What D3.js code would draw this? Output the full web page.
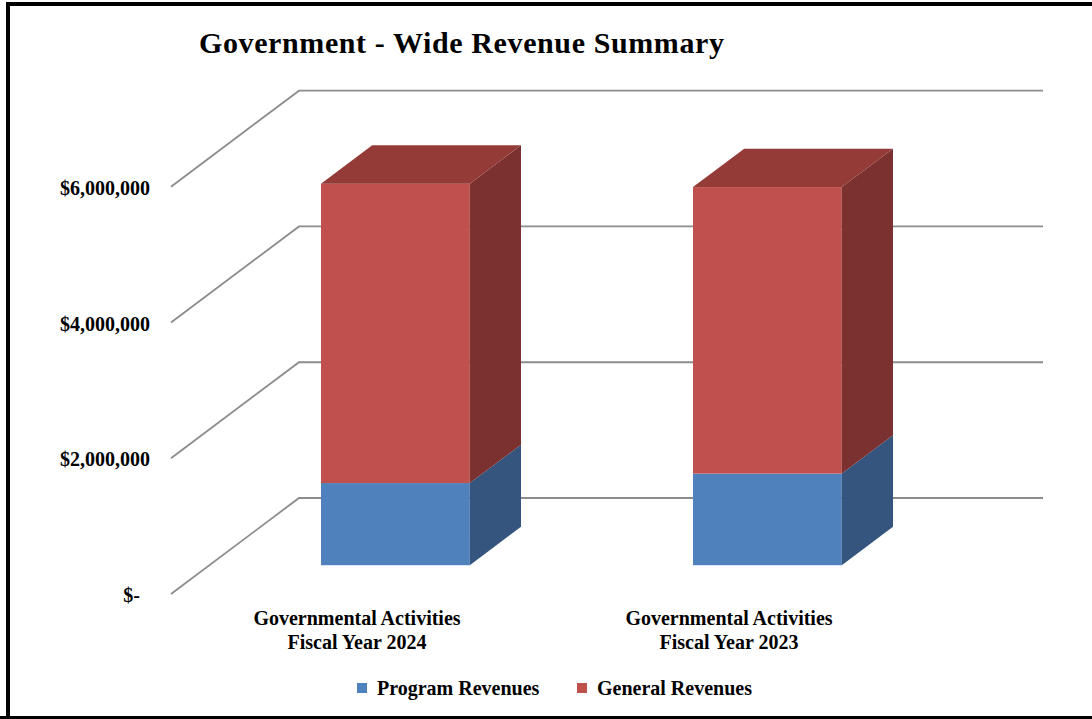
<!DOCTYPE html>
<html>
<head>
<meta charset="utf-8">
<script src="https://cdn.jsdelivr.net/npm/d3@7"></script>
<style>
  body { margin: 0; background: #fff; }
  svg { display: block; }
  text { font-family: "Liberation Serif", "Times New Roman", serif; font-weight: bold; fill: #000; }
</style>
</head>
<body>
<svg id="chart" width="1092" height="719"></svg>
<script>
// chart data
const categories = ["FY2024", "FY2023"];
const categoryLines = [
    ["Governmental Activities", "Fiscal Year 2024"],
    ["Governmental Activities", "Fiscal Year 2023"]
];
const seriesNames = ["Program Revenues", "General Revenues"];
const programRevenues = [1210000, 1350000];
const generalRevenues = [4410000, 4220000];
const tickValues = [0, 2000000, 4000000, 6000000];
const tickLabels = ["$-\u00a0\u00a0", "$2,000,000", "$4,000,000", "$6,000,000"];

const width = 1092, height = 719;
const svg = d3.select("#chart");

// colours: front, side, top
const frontColors = ["#4f81bd", "#c0504d"];
const sideColors = ["#35557e", "#7a3130"];
const topColors = ["#40699a", "#943a37"];

// 3d depth of the plot box
const depthX = 128, depthY = -96;
const zFront = 0.3, zBack = 0.7;

const x = d3.scaleBand().domain(categories).range([171, 915])
    .paddingInner(0.6).paddingOuter(0.3);
const y = d3.scaleLinear().domain([0, 6000000]).range([594, 186.7]);

// frame
svg.append("path")
    .attr("d", `M8,${height} L8,4 L${width},4`)
    .attr("fill", "none").attr("stroke", "#000").attr("stroke-width", 4);
svg.append("line")
    .attr("x1", 0).attr("x2", width).attr("y1", 717.5).attr("y2", 717.5)
    .attr("stroke", "#000").attr("stroke-width", 3);

// gridlines: floor/side diagonal then back wall
svg.append("g").selectAll("path")
    .data(tickValues)
    .join("path")
    .attr("d", d => {
        const x0 = x.range()[0], x1 = x.range()[1];
        return `M${x0},${y(d)} L${x0 + depthX},${y(d) + depthY} L${x1 + depthX},${y(d) + depthY}`;
    })
    .attr("fill", "none")
    .attr("stroke", "#8c8c8c")
    .attr("stroke-width", 1.8);

// y axis labels
svg.append("g")
    .attr("transform", `translate(${x.range()[0]},0)`)
    .call(d3.axisLeft(y).tickValues(tickValues)
        .tickFormat((d, i) => tickLabels[i])
        .tickSize(0).tickPadding(21))
    .call(g => g.select(".domain").remove())
    .attr("font-family", null)
    .attr("font-size", 20)
    .call(g => g.selectAll("text").attr("dy", "0.38em").attr("fill", "#000"));

// stacked data
const table = categories.map((c, i) => ({
    cat: c,
    "Program Revenues": programRevenues[i],
    "General Revenues": generalRevenues[i]
}));
const stacked = d3.stack().keys(seriesNames)(table);

const bw = x.bandwidth();
const offX = zFront * depthX, offY = zFront * depthY;
const dX = (zBack - zFront) * depthX, dY = (zBack - zFront) * depthY;

const bars = svg.append("g");
stacked.forEach((series, s) => {
    series.forEach(d => {
        const left = x(d.data.cat) + offX;
        const right = left + bw;
        const yb = y(d[0]) + offY;
        const yt = y(d[1]) + offY;

        bars.append("rect")
            .attr("x", left).attr("y", yt)
            .attr("width", bw).attr("height", yb - yt)
            .attr("fill", frontColors[s]);

        bars.append("polygon")
            .attr("points", [[right, yb], [right + dX, yb + dY], [right + dX, yt + dY], [right, yt]].join(" "))
            .attr("fill", sideColors[s]);

        if (s === stacked.length - 1) {
            bars.append("polygon")
                .attr("points", [[left, yt], [right, yt], [right + dX, yt + dY], [left + dX, yt + dY]].join(" "))
                .attr("fill", topColors[s]);
        }
    });
});

// category labels
categories.forEach((c, i) => {
    const cx = x(c) + bw / 2;
    categoryLines[i].forEach((line, j) => {
        svg.append("text")
            .attr("x", cx).attr("y", 625 + j * 24)
            .attr("text-anchor", "middle")
            .style("font-size", "20px")
            .text(line);
    });
});

// title
svg.append("text")
    .attr("x", 199).attr("y", 53)
    .attr("textLength", 525)
    .attr("lengthAdjust", "spacing")
    .style("font-size", "30px")
    .text("Government - Wide Revenue Summary");

// legend
const legendX = [357, 577];
const legend = svg.append("g");
seriesNames.forEach((n, i) => {
    legend.append("rect")
        .attr("x", legendX[i]).attr("y", 683)
        .attr("width", 10).attr("height", 10)
        .attr("fill", frontColors[i]);
    legend.append("text")
        .attr("x", legendX[i] + 20).attr("y", 695)
        .style("font-size", "20px")
        .text(n);
});
</script>
</body>
</html>
